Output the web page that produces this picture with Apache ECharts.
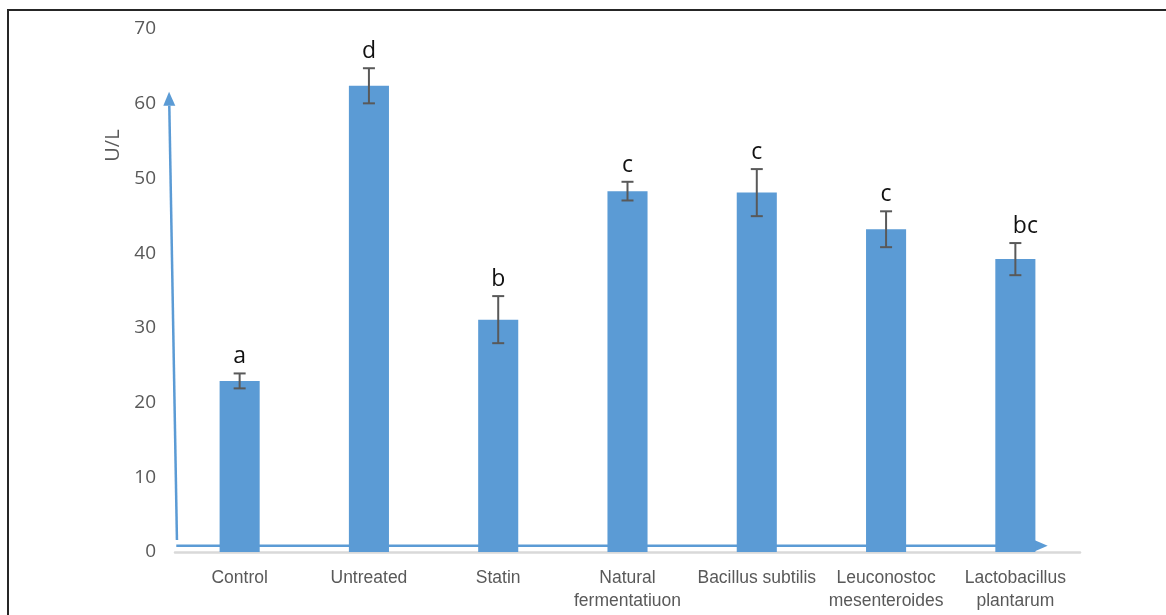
<!DOCTYPE html>
<html>
<head>
<meta charset="utf-8">
<script src="https://cdn.jsdelivr.net/npm/echarts@6/dist/echarts.min.js"></script>
<style>
  html, body { margin: 0; padding: 0; background: #fff; }
  #chart { width: 1166px; height: 615px; }
</style>
</head>
<body>
<div id="chart"></div>
<script>
// Enzyme activity (U/L) per treatment group
const categories = ['Control', 'Untreated', 'Statin', 'Natural\nfermentatiuon', 'Bacillus subtilis', 'Leuconostoc\nmesenteroides', 'Lactobacillus\nplantarum'];
const means = [22.9, 62.4, 31.1, 48.3, 48.1, 43.2, 39.2];
const errors = [1.0, 2.35, 3.15, 1.25, 3.15, 2.4, 2.15];
const letters = ['a', 'd', 'b', 'c', 'c', 'c', 'bc'];
const yTicks = [0, 10, 20, 30, 40, 50, 60, 70];

// Hand-drawn arrows in data space: [categoryPosition, value]
const vArrow = [[-0.485, 1.6], [-0.546, 61.6]];
const hArrow = [[-0.49, 0.85], [6.25, 0.85]];

const BLUE = '#5b9bd5';
const chart = echarts.init(document.getElementById('chart'), null, { renderer: 'canvas' });

const option = {
  animation: false,
  backgroundColor: '#ffffff',
  grid: { left: 175, right: 86, top: 29, bottom: 63 },
  xAxis: {
    type: 'category',
    data: categories,
    axisLine: { show: true, lineStyle: { color: '#d9d9d9', width: 2.5 } },
    axisTick: { show: false },
    axisLabel: {
      color: '#595959', fontSize: 17.5, lineHeight: 23, margin: 15,
      fontFamily: '"Liberation Sans", sans-serif', interval: 0
    }
  },
  yAxis: {
    type: 'value',
    min: yTicks[0], max: yTicks[yTicks.length - 1], interval: 10,
    axisLine: { show: false },
    axisTick: { show: false },
    splitLine: { show: false },
    axisLabel: { color: '#595959', fontSize: 19, margin: 19, fontFamily: '"Open Sans", sans-serif' }
  },
  series: [
    {
      type: 'bar',
      data: means,
      barWidth: '31%',
      itemStyle: { color: BLUE },
      z: 3
    },
    {
      type: 'custom',
      z: 5,
      data: means.map((m, i) => [i, m, errors[i]]),
      renderItem: function (params, api) {
        const i = api.value(0), m = api.value(1), e = api.value(2);
        const top = api.coord([i, m + e]);
        const bot = api.coord([i, m - e]);
        const cap = 6;
        const lineStyle = { stroke: '#595959', lineWidth: 2 };
        const letter = letters[params.dataIndex];
        return {
          type: 'group',
          children: [
            { type: 'line', shape: { x1: top[0], y1: top[1], x2: bot[0], y2: bot[1] }, style: lineStyle },
            { type: 'line', shape: { x1: top[0] - cap, y1: top[1], x2: top[0] + cap, y2: top[1] }, style: lineStyle },
            { type: 'line', shape: { x1: bot[0] - cap, y1: bot[1], x2: bot[0] + cap, y2: bot[1] }, style: lineStyle },
            {
              type: 'text',
              x: top[0] + (letter.length > 1 ? 10 : 0),
              y: top[1] - 5,
              style: {
                text: letter, fill: '#111', fontSize: 23,
                fontFamily: '"Open Sans", sans-serif',
                align: 'center', verticalAlign: 'bottom'
              }
            }
          ]
        };
      }
    }
  ]
};
chart.setOption(option);

// Map a fractional category position + value to pixels by interpolating between category centres
function toPixel(p) {
  const c0 = chart.convertToPixel({ gridIndex: 0 }, [0, p[1]]);
  const c1 = chart.convertToPixel({ gridIndex: 0 }, [1, p[1]]);
  return [c0[0] + (c1[0] - c0[0]) * p[0], c0[1]];
}

function arrowGraphic(p0, p1, z) {
  const a = toPixel(p0);
  const b = toPixel(p1);
  const ang = Math.atan2(b[1] - a[1], b[0] - a[0]);
  const len = 14, half = 6;
  const base = [b[0] - len * Math.cos(ang), b[1] - len * Math.sin(ang)];
  const nx = -Math.sin(ang) * half, ny = Math.cos(ang) * half;
  return [
    { type: 'line', z: z, shape: { x1: a[0], y1: a[1], x2: base[0], y2: base[1] }, style: { stroke: BLUE, lineWidth: 2.5 } },
    { type: 'polygon', z: z, shape: { points: [b, [base[0] + nx, base[1] + ny], [base[0] - nx, base[1] - ny]] }, style: { fill: BLUE } }
  ];
}

const titlePos = chart.convertToPixel({ gridIndex: 0 }, [0, 54.4]);
chart.setOption({
  graphic: [
    { type: 'rect', z: 0, silent: true, shape: { x: 8, y: 10, width: 1300, height: 800 }, style: { fill: null, stroke: '#262626', lineWidth: 2 } },
    {
      type: 'text', z: 10, x: 113, y: titlePos[1], rotation: Math.PI / 2,
      style: { text: 'U/L', fill: '#595959', fontSize: 20, fontFamily: '"Open Sans", sans-serif', align: 'center', verticalAlign: 'middle' }
    },
    ...arrowGraphic(vArrow[0], vArrow[1], 1),
    ...arrowGraphic(hArrow[0], hArrow[1], 1)
  ]
});
</script>
</body>
</html>
